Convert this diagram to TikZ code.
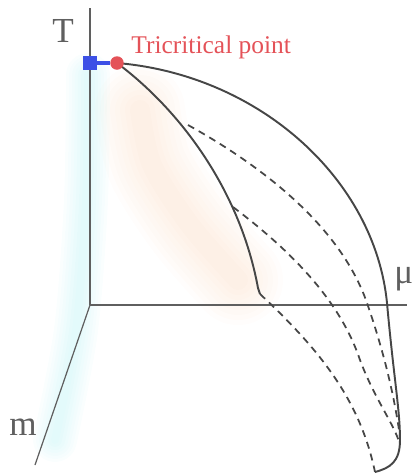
\documentclass[tikz,border=0pt]{standalone}
\usepackage{fontspec}
\setmainfont{Liberation Serif}
\newfontfamily\labelfont{Liberation Serif}
\usetikzlibrary{positioning}
\definecolor{axisgray}{RGB}{95,95,95}
\definecolor{curvegray}{RGB}{70,70,70}
\definecolor{tcpred}{RGB}{228,82,88}
\definecolor{sqblue}{RGB}{60,80,230}
\definecolor{glowcyan}{RGB}{150,235,240}
\definecolor{glowpeach}{RGB}{248,190,145}

\begin{document}
\begin{tikzpicture}[x=0.02cm, y=-0.02cm,
  axis/.style={draw=axisgray, line width=0.7pt},
  lbl/.style={text=axisgray, font=\labelfont\fontsize{20}{24}\selectfont, inner sep=0pt},
  sol/.style={draw=curvegray, line width=1.1pt},
  dsh/.style={draw=curvegray, line width=1pt, dash pattern=on 4pt off 3pt}]
\useasboundingbox (0,0) rectangle (416,474);
% ---------------- soft glows ----------------
\foreach \w in {90,80,...,20}
  \draw[glowpeach, opacity=0.03, line width=\w*0.02cm, line cap=round] plot[smooth] coordinates {(140,110) (152,165) (190,225) (238,280)};
\foreach \w in {44,38,...,8}
  \draw[glowcyan, opacity=0.045, line width=\w*0.02cm, line cap=round] plot[smooth] coordinates {(88,75) (86,200) (76,330) (55,440)};
% ---------------- axes ----------------
\coordinate (O) at (90,305);
\coordinate (Ttop) at (90,8);
\coordinate (muend) at (407,305);
\coordinate (mend) at (35,465);
\draw[axis] (O) -- (Ttop);
\draw[axis] (O) -- (muend);
\draw[axis] (O) -- (mend);
\node[lbl, anchor=base] (Tlab) at (63,42) {T};
\node[lbl, anchor=base] (mlab) at (23,435) {m};
\node[lbl, anchor=base west] (mulab) at (394,283) {μ};
% ---------------- phase boundaries ----------------
\coordinate (tc) at (117,63);
\coordinate (kink) at (260,294);
\coordinate (bot) at (375,472);
\coordinate (p1) at (188,125);
\coordinate (p2) at (233,207);
\draw[sol] (tc) .. controls (260,75) and (375,180) .. (387,303)
  .. controls (394,380) and (400,410) .. (400,440)
  .. controls (400,462) and (390,468) .. (bot);
\draw[sol] (tc) .. controls (180,110) and (240,190) .. (258,288) -- (kink);
\draw[dsh] (kink) .. controls (320,350) and (360,400) .. (bot);
\draw[dsh] (p1) .. controls (260,165) and (340,225) .. (367,303)
  .. controls (385,355) and (395,400) .. (400,437);
\draw[dsh] (p2) .. controls (290,250) and (340,300) .. (360,360)
  .. controls (375,400) and (395,425) .. (400,445);
% ---------------- tricritical point ----------------
\node[fill=sqblue, minimum size=0.28cm, inner sep=0pt] (sq) at (90,63) {};
\node[circle, fill=tcpred, minimum size=0.27cm, inner sep=0pt] (tcp) at (tc) {};
\draw[sqblue, line width=2.3pt] (sq) -- (tcp);
\node[text=tcpred, font=\labelfont\fontsize{14.5}{17}\selectfont, anchor=base west, inner sep=0pt] (tcplab) at (131,53) {Tricritical point};
\end{tikzpicture}
\end{document}
